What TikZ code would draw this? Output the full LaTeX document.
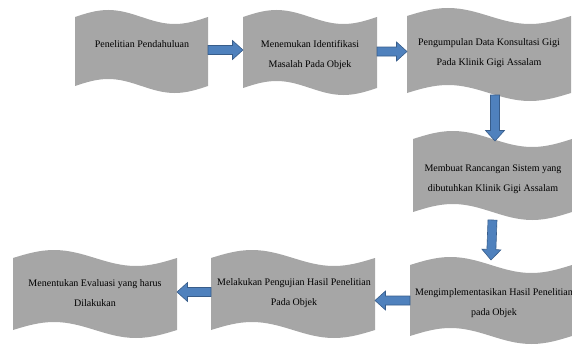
\documentclass[tikz,border=0pt]{standalone}
\usepackage{fontspec}
\setmainfont{Liberation Serif}
\usetikzlibrary{calc}
\definecolor{tapegray}{HTML}{A6A6A6}
\definecolor{arrowfill}{HTML}{4F81BD}
\definecolor{arrowline}{HTML}{385D8A}
% punched tape shape: left, right, top base, bottom base, amplitude
\newcommand{\tapeshape}[5]{%
  \fill[tapegray] (#1,#3) sin ({#1+(#2-#1)/4},{#3+#5}) cos ({(#1+#2)/2},#3)
    sin ({#1+3*(#2-#1)/4},{#3-#5}) cos (#2,#3) -- (#2,#4)
    sin ({#1+3*(#2-#1)/4},{#4-#5}) cos ({(#1+#2)/2},#4)
    sin ({#1+(#2-#1)/4},{#4+#5}) cos (#1,#4) -- cycle;}
\tikzset{
  boxnode/.style={inner sep=0pt, outer sep=0pt, minimum width=#1},
  txt/.style={align=center, inner sep=0pt, font=\fontsize{10}{19.5}\selectfont},
  blockarrow/.style={draw=arrowline, fill=arrowfill, line width=0.6pt, line join=miter,
    to path={let \p1=(\tikztostart), \p2=(\tikztotarget),
      \n1={veclen(\x2-\x1,\y2-\y1)}, \n2={atan2(\y2-\y1,\x2-\x1)}, \n3={\n1-10.5pt}
      in ($(\p1)+(\n2+90:4.5pt)$) -- ($(\p1)+(\n2:\n3)+(\n2+90:4.5pt)$)
      -- ($(\p1)+(\n2:\n3)+(\n2+90:9.5pt)$) -- (\p2)
      -- ($(\p1)+(\n2:\n3)+(\n2-90:9.5pt)$) -- ($(\p1)+(\n2:\n3)+(\n2-90:4.5pt)$)
      -- ($(\p1)+(\n2-90:4.5pt)$) -- cycle}}
}
\begin{document}
\begin{tikzpicture}[x=1pt,y=1pt]
\useasboundingbox (0,0) rectangle (572,349);
% shapes
\tapeshape{75}{208}{332}{263}{7}
\tapeshape{243}{377}{332}{261}{7}
\tapeshape{407}{571}{333}{256}{8}
\tapeshape{413}{572}{210}{137}{8}
\tapeshape{410}{572}{84}{13}{8}
\tapeshape{211}{375}{91}{19}{8}
\tapeshape{13}{177}{91}{19}{8}
% box nodes
\node[boxnode=133pt, minimum height=69pt] (n1) at (141.5,297.5) {};
\node[boxnode=134pt, minimum height=71pt] (n2) at (310,296.5) {};
\node[boxnode=164pt, minimum height=77pt] (n3) at (489,294.5) {};
\node[boxnode=159pt, minimum height=73pt] (n4) at (492.5,173.5) {};
\node[boxnode=162pt, minimum height=71pt] (n5) at (491,48.5) {};
\node[boxnode=164pt, minimum height=72pt] (n6) at (293,55) {};
\node[boxnode=164pt, minimum height=72pt] (n7) at (95,55) {};
% texts
\node[txt] (t1) at (142,305) {Penelitian Pendahuluan};
\node[txt] (t2) at (310,294) {Menemukan Identifikasi\\Masalah Pada Objek};
\node[txt] (t3) at (489,296) {Pengumpulan Data Konsultasi Gigi\\Pada Klinik Gigi Assalam};
\node[txt] (t4) at (493,170) {Membuat Rancangan Sistem yang\\dibutuhkan Klinik Gigi Assalam};
\node[txt] (t5) at (494,46) {Mengimplementasikan Hasil Penelitian\\pada Objek};
\node[txt] (t6) at (294,56) {Melakukan Pengujian Hasil Penelitian\\Pada Objek};
\node[txt] (t7) at (95,56) {Menentukan Evaluasi yang harus\\Dilakukan};
% arrows
\draw[blockarrow] ([yshift=1.5pt]n1.east) to ([yshift=1.5pt]n2.west |- n1.east);
\draw[blockarrow] ([yshift=1pt]n2.east) to ([yshift=1pt]n3.west |- n2.east);
\draw[blockarrow] ([xshift=6pt,yshift=-2pt]n3.south) to ([xshift=6pt,yshift=-2pt]n3.south |- n4.north);
\draw[blockarrow] ([yshift=-8pt]n4.south) to ([yshift=5pt]n5.north);
\draw[blockarrow] (n5.west) to (n6.east |- n5.west);
\draw[blockarrow] ([yshift=2pt]n6.west) to ([yshift=2pt]n7.east |- n6.west);
\end{tikzpicture}
\end{document}
